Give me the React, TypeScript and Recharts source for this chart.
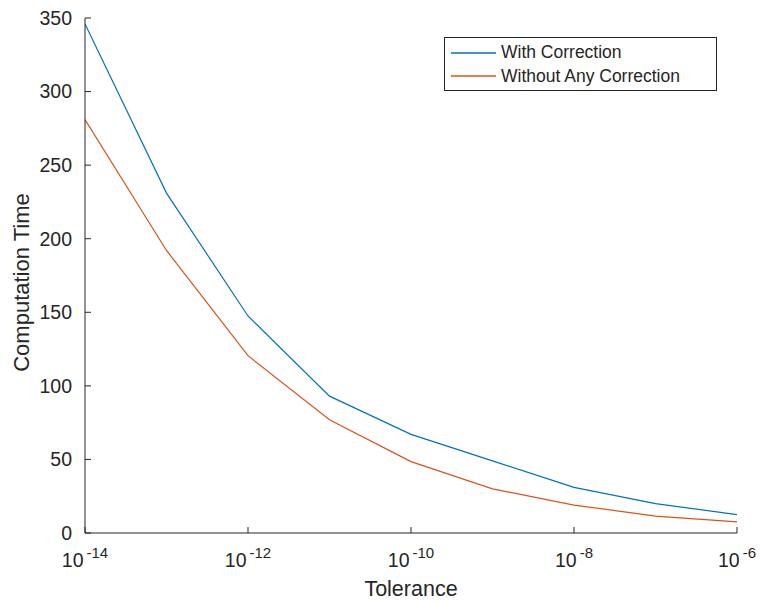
import React from 'react';
import { LineChart, Line, XAxis, YAxis } from 'recharts';

const tolerances = [1e-14, 1e-13, 1e-12, 1e-11, 1e-10, 1e-9, 1e-8, 1e-7, 1e-6];
const withCorrection = [346, 231, 147.5, 93, 67, 49, 31, 20, 12.5];
const withoutCorrection = [281, 192, 120.5, 77, 48.5, 30, 19, 11.5, 7.5];
const xTicks = [1e-14, 1e-12, 1e-10, 1e-8, 1e-6];
const yTicks = [0, 50, 100, 150, 200, 250, 300, 350];
const seriesNames = ['With Correction', 'Without Any Correction'];
const colors = ['#0072BD', '#D95319'];

const data = tolerances.map((t, i) => ({
  tol: t,
  a: withCorrection[i],
  b: withoutCorrection[i],
}));

const FONT = 'Liberation Sans, Arial, Helvetica, sans-serif';
const INK = '#262626';

const XTick = (props: any) => {
  const { x, y, payload } = props;
  const exp = Math.round(Math.log10(payload.value));
  return (
    <g>
      <line x1={x} x2={x} y1={y} y2={y - 6} stroke={INK} strokeWidth={1} />
      <text x={x} y={y + 34} textAnchor="middle" fill={INK} fontFamily={FONT} fontSize={19.5}>
        <tspan>10</tspan>
        <tspan dx={3} dy={-9} fontSize={15}>{exp}</tspan>
      </text>
    </g>
  );
};

const YTick = (props: any) => {
  const { x, y, payload } = props;
  return (
    <g>
      <line x1={x} x2={x + 6} y1={y} y2={y} stroke={INK} strokeWidth={1} />
      <text x={x - 13} y={y} dy="0.35em" textAnchor="end" fill={INK} fontFamily={FONT} fontSize={19.5}>
        {payload.value}
      </text>
    </g>
  );
};

const YLabel = (props: any) => {
  const vb = props.viewBox || {};
  const cx = 21;
  const cy = vb.y + vb.height / 2 + 7;
  return (
    <text
      x={cx}
      y={cy}
      transform={`rotate(-90, ${cx}, ${cy})`}
      textAnchor="middle"
      dominantBaseline="central"
      fill={INK}
      fontFamily={FONT}
      fontSize={22}
    >
      Computation Time
    </text>
  );
};

const XLabel = (props: any) => {
  const vb = props.viewBox || {};
  const cx = vb.x + vb.width / 2;
  return (
    <text x={cx} y={596} textAnchor="middle" fill={INK} fontFamily={FONT} fontSize={21.5}>
      Tolerance
    </text>
  );
};

const LegendBox = () => (
  <div
    style={{
      position: 'absolute',
      left: 444,
      top: 37,
      border: '1px solid #262626',
      background: '#fff',
      width: 273,
      height: 54,
      boxSizing: 'border-box',
      padding: '3px 0 0 0',
      fontFamily: FONT,
      fontSize: 17.5,
      color: INK,
    }}
  >
    {seriesNames.map((n, i) => (
      <div key={n} style={{ display: 'flex', alignItems: 'center', height: 23.5 }}>
        <svg width={56} height={10} style={{ flex: 'none' }}>
          <line x1={6} x2={51} y1={5} y2={5} stroke={colors[i]} strokeWidth={1.3} />
        </svg>
        <span style={{ whiteSpace: 'nowrap', lineHeight: '23px' }}>{n}</span>
      </div>
    ))}
  </div>
);

export default function App() {
  return (
    <div style={{ position: 'absolute', left: 0, top: 0, width: 761, height: 604, background: '#fff' }}>
      <LineChart width={761} height={604} data={data} margin={{ top: 18, right: 24, bottom: 0, left: 0 }}>
        <XAxis
          dataKey="tol"
          type="number"
          scale="log"
          domain={[1e-14, 1e-6]}
          ticks={xTicks}
          allowDataOverflow
          height={71}
          tickSize={0}
          tickMargin={0}
          tickLine={false}
          axisLine={{ stroke: INK, strokeWidth: 1 }}
          tick={<XTick />}
          interval={0}
          label={<XLabel />}
        />
        <YAxis
          type="number"
          domain={[0, 350]}
          ticks={yTicks}
          width={85}
          tickSize={0}
          tickMargin={0}
          tickLine={false}
          axisLine={{ stroke: INK, strokeWidth: 1 }}
          tick={<YTick />}
          interval={0}
          label={<YLabel />}
        />
        <Line dataKey="a" name={seriesNames[0]} stroke={colors[0]} strokeWidth={1.2} dot={false} isAnimationActive={false} type="linear" />
        <Line dataKey="b" name={seriesNames[1]} stroke={colors[1]} strokeWidth={1.2} dot={false} isAnimationActive={false} type="linear" />
      </LineChart>
      <LegendBox />
    </div>
  );
}
